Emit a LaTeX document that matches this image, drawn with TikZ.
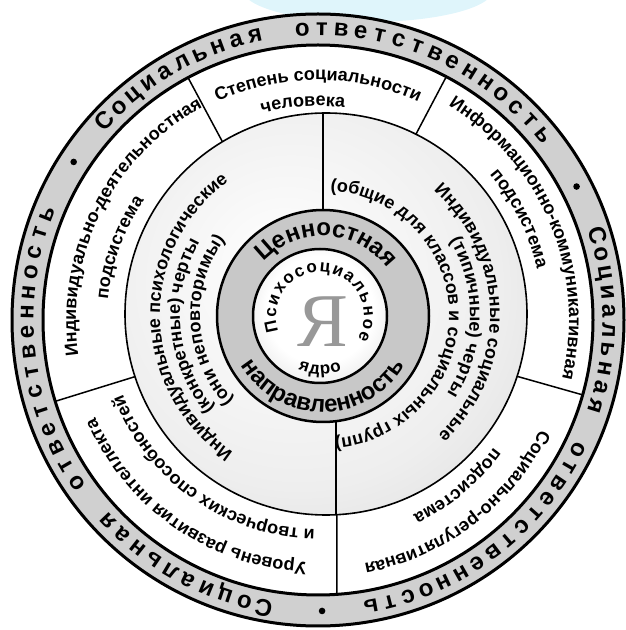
\documentclass[tikz,border=0pt]{standalone}
\usepackage{fontspec}
\setmainfont{Liberation Sans}
\newfontfamily\yafont{Liberation Serif}
\usetikzlibrary{decorations.text,calc}

\definecolor{blobc}{HTML}{DFF5FB}
\definecolor{ogA}{HTML}{D0D0D0}
\definecolor{ogB}{HTML}{BEBEBE}
\definecolor{ogC}{HTML}{9E9E9E}
\definecolor{grA}{HTML}{EEEEEE}
\definecolor{grB}{HTML}{DADADA}
\definecolor{grC}{HTML}{B4B4B4}
\definecolor{vA}{HTML}{C8C8C8}
\definecolor{vB}{HTML}{B2B2B2}
\definecolor{vC}{HTML}{929292}
\definecolor{inC}{HTML}{C0C0C0}
\definecolor{yagray}{HTML}{989898}

\pgfdeclareradialshading{outerringsh}{\pgfpoint{0bp}{0bp}}{color(0bp)=(ogA); color(44bp)=(ogA); color(47bp)=(ogB); color(50bp)=(ogC)}
\pgfdeclareradialshading{grayringsh}{\pgfpoint{-6bp}{6bp}}{color(0bp)=(white); color(25bp)=(grA); color(40bp)=(grB); color(56bp)=(grC)}
\pgfdeclareradialshading{vringsh}{\pgfpoint{6bp}{8bp}}{color(0bp)=(vA); color(30bp)=(vA); color(40bp)=(vB); color(56bp)=(vC)}
\pgfdeclareradialshading{innersh}{\pgfpoint{0bp}{4bp}}{color(0bp)=(white); color(20bp)=(white); color(50bp)=(inC)}

\newcommand\tf{\fontsize{18}{20}\selectfont\bfseries}
\newcommand\bigf{\fontsize{24}{26}\selectfont\bfseries}
\newcommand\smf{\fontsize{17}{19}\selectfont\bfseries}

% clockwise text (tops outward): center, radius, mid angle, half span, font, text
\newcommand\cwtext[6]{%
  \path[decorate, decoration={text along path, text align=center, text={|#5|#6}}]
    (#1) ++(#3+#4:#2) arc[start angle=#3+#4, end angle=#3-#4, radius=#2];}
% counter-clockwise text (tops inward)
\newcommand\ccwtext[6]{%
  \path[decorate, decoration={text along path, text align=center, text={|#5|#6}}]
    (#1) ++(#3-#4:#2) arc[start angle=#3-#4, end angle=#3+#4, radius=#2];}

\begin{document}
\begin{tikzpicture}[x=1pt,y=1pt,line join=round,
  ringlet/.style={anchor=base, inner sep=0pt, font=\fontsize{24}{24}\selectfont\bfseries},
  divider/.style={line width=1.5pt}]
\useasboundingbox (0,0) rectangle (625,630);
\coordinate (O) at (318,310);
\coordinate (C3) at (326,316);
\coordinate (CV) at (323,314);
\coordinate (CI) at (320,314);
\coordinate (CG) at (325,315);

% light background blob at the top
\fill[blobc] (368,640) ellipse[x radius=125, y radius=32];

% outer ring
\shade[shading=outerringsh] (O) circle[radius=307];
\draw[line width=3pt] (O) circle[radius=306];
\fill[white] (O) circle[radius=275];
\draw[line width=3pt] (O) circle[radius=275];

% dividers of the white ring
\foreach \a in {118.2,62.2,-15.8,197.2}
  \draw[divider] ($(O)+(\a:275)$) -- ($(O)+(\a:150)$);
\coordinate (wb) at ($(O)+(-86.04:275)$);
\draw[divider] (wb) -- (337,200);

% grey ring
\shade[shading=grayringsh] (C3) circle[radius=201];
\draw[line width=1.6pt] (C3) circle[radius=201];
\coordinate (gt1) at (323,517);
\coordinate (gt2) at (323,380);
\coordinate (gb1) at (336,115.25);
\coordinate (gb2) at (336,250);
\draw[divider] (gt1) -- (gt2);
\draw[divider] (gb1) -- (gb2);

% value ring and core
\shade[shading=vringsh] (CV) circle[radius=106];
\draw[line width=2.5pt] (CV) circle[radius=106];
\shade[shading=innersh] (CI) circle[radius=67];
\draw[line width=2.5pt] (CI) circle[radius=67];

\node[font=\yafont\fontsize{76}{76}\selectfont, text=yagray, inner sep=0pt] (ya) at (323,308) {Я};

% outer ring lettering
\foreach \d/\s/\e in {147.1/137/39.4, 27.3/16.9/-79.5, -89.2/-100.7/-201.3}{
  \fill ($(O)+(\d:291)$) circle[radius=3.3];
  \pgfmathsetmacro\st{(\s-\e)/25.45}
  \foreach \ch [count=\i] in {С,о,ц,и,а,л,ь,н,а,я}{
    \pgfmathsetmacro\ang{\s-(\i-1)*\st}
    \node[ringlet, rotate=\ang-90] at ($(O)+(\ang:284.5)$) {\ch};
  }
  \foreach \ch [count=\i] in {о,т,в,е,т,с,т,в,е,н,н,о,с,т,ь}{
    \pgfmathsetmacro\ang{\s-(9+2.45)*\st-(\i-1)*\st}
    \node[ringlet, rotate=\ang-90] at ($(O)+(\ang:284.5)$) {\ch};
  }
}

% white ring texts
\cwtext{O}{240}{90}{60}{\tf}{Степень социальности}
\cwtext{O}{214}{94}{40}{\tf}{человека}
\cwtext{O}{242}{153.4}{60}{\tf}{Индивидуально-деятельностная}
\cwtext{O}{211}{160}{40}{\tf}{подсистема}
\cwtext{O}{251}{22.6}{60}{\tf}{Информационно-коммуникативная}
\cwtext{O}{225}{26.7}{40}{\tf}{подсистема}
\cwtext{O}{248}{-52.8}{50}{\tf}{Социально-регулятивная}
\cwtext{O}{217}{-50}{40}{\tf}{подсистема}
\cwtext{O}{243}{235.4}{55}{\tf}{Уровень развития интеллекта}
\cwtext{O}{209}{235}{60}{\tf}{и творческих способностей}

% grey ring texts
\cwtext{CG}{165}{181}{80}{\tf}{Индивидуальные психологические}
\cwtext{CG}{145}{185}{60}{\tf}{(конкретные) черты}
\cwtext{CG}{125}{183}{60}{\tf}{(они неповторимы)}
\cwtext{CG}{165}{1}{70}{\tf}{Индивидуальные социальные}
\cwtext{CG}{145}{-1}{60}{\tf}{(типичные) черты}
\cwtext{CG}{124}{1}{110}{\tf}{(общие для классов и социальных групп)}

% value ring texts
\cwtext{CV}{80}{87}{80}{\bigf}{Ценностная}
\ccwtext{CV}{96}{270}{80}{\bigf}{направленность}

% core texts
\path[decorate, decoration={text along path, text align=fit to path, text={|\smf|Психосоциальное}}]
  (CI) ++(200:44) arc[start angle=200, end angle=-31, radius=44];
\path[decorate, decoration={text along path, text align=fit to path, text={|\smf|ядро}}]
  (CI) ++(248:58) arc[start angle=248, end angle=292, radius=58];
\end{tikzpicture}
\end{document}
